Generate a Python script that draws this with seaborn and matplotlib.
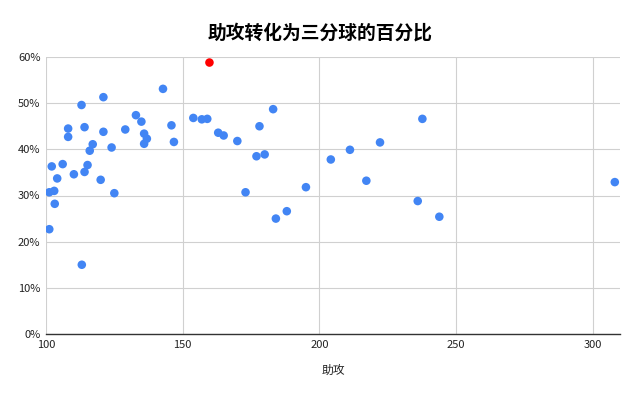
import matplotlib
matplotlib.use("Agg")
import matplotlib.pyplot as plt
import seaborn as sns
import pandas as pd
from matplotlib.ticker import PercentFormatter

assists = [101.2, 102.1, 103.0, 103.2, 101.2, 104.1, 106.1, 108.1, 108.1, 110.2,
           113.0, 113.1, 114.1, 114.1, 115.2, 116.0, 117.1, 120.0, 121.0, 121.0,
           124.0, 125.0, 129.0, 132.9, 134.9, 135.9, 136.9, 135.9, 142.8, 145.9,
           146.8, 153.9, 157.0, 159.0, 163.0, 165.0, 170.0, 173.0, 177.0, 178.1,
           180.0, 183.1, 184.1, 188.1, 195.1, 204.2, 211.2, 217.2, 222.2, 236.0,
           237.7, 243.9, 308.1, 159.8]
pct3 = [30.7, 36.3, 31.0, 28.2, 22.7, 33.7, 36.8, 44.5, 42.7, 34.6,
        49.6, 15.0, 44.8, 35.1, 36.6, 39.7, 41.1, 33.4, 51.3, 43.8,
        40.4, 30.5, 44.3, 47.4, 46.0, 43.4, 42.3, 41.2, 53.1, 45.2,
        41.6, 46.8, 46.5, 46.6, 43.6, 43.0, 41.8, 30.7, 38.5, 45.0,
        38.9, 48.7, 25.0, 26.6, 31.8, 37.8, 39.9, 33.2, 41.5, 28.8,
        46.6, 25.4, 32.9, 58.8]
highlight = ["n"] * 53 + ["y"]

title = "助攻转化为三分球的百分比"
xlabel = "助攻"

df = pd.DataFrame({"assists": assists, "pct": [v / 100 for v in pct3], "hl": highlight})

sns.set_theme(style="white")
plt.rcParams["font.family"] = ["Noto Sans CJK SC", "DejaVu Sans"]

fig = plt.figure(figsize=(6.4, 3.95), dpi=100)
ax = fig.add_axes([46 / 640, 1 - 334 / 395, (620 - 46) / 640, (334 - 57) / 395])

sns.scatterplot(data=df, x="assists", y="pct", hue="hl",
                palette={"n": "#4285F4", "y": "#FF0000"},
                s=38, linewidth=0, legend=False, ax=ax, zorder=3)

ax.set_xlim(100, 310)
ax.set_ylim(0, 0.6)
ax.set_xticks([100, 150, 200, 250, 300])
ax.set_yticks([0, 0.1, 0.2, 0.3, 0.4, 0.5, 0.6])
ax.yaxis.set_major_formatter(PercentFormatter(1.0, decimals=0))
ax.grid(True, color="#d0d0d0", linewidth=0.8)
ax.set_axisbelow(True)
for s in ["top", "right", "left"]:
    ax.spines[s].set_visible(False)
ax.spines["bottom"].set_color("#333333")
ax.spines["bottom"].set_linewidth(1.0)
ax.tick_params(axis="both", length=0, labelsize=8, colors="#222222", pad=4)
ax.set_xlabel(xlabel, fontsize=8.5, color="#222222", labelpad=10)
ax.set_ylabel("")
fig.text(0.5, 1 - 33 / 395, title, ha="center", va="center",
         fontsize=13.5, fontweight="bold", color="#000000")

fig.savefig("out.png", dpi=100)
